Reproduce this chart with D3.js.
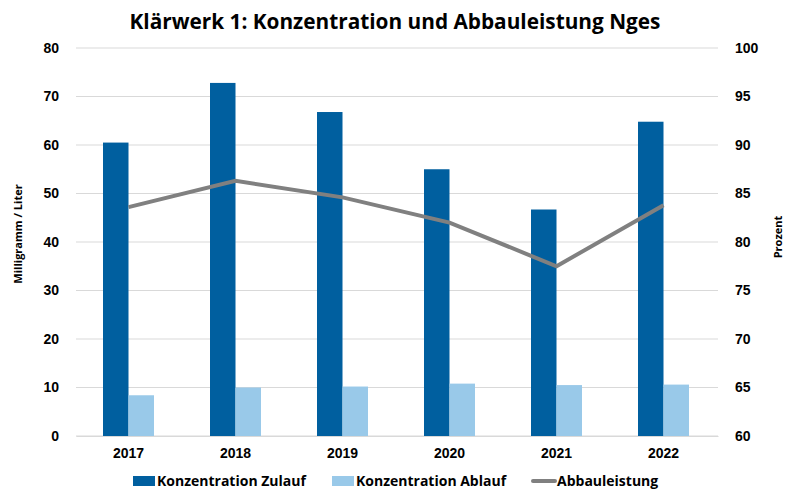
<!DOCTYPE html>
<html>
<head>
<meta charset="utf-8">
<script src="https://cdn.jsdelivr.net/npm/d3@7"></script>
<style>
  body { margin: 0; background: #fff; }
  svg { font-family: "Open Sans", "Noto Sans", sans-serif; }
</style>
</head>
<body>
<script>
// Chart values
const years = ['2017', '2018', '2019', '2020', '2021', '2022'];
const zulauf = [60.5, 72.8, 66.8, 55.0, 46.7, 64.8];
const ablauf = [8.4, 10.0, 10.2, 10.8, 10.5, 10.6];
const abbau = [83.6, 86.3, 84.6, 82.0, 77.5, 83.8];
const leftTicks = [0, 10, 20, 30, 40, 50, 60, 70, 80];
const rightTicks = [60, 65, 70, 75, 80, 85, 90, 95, 100];

const width = 786, height = 491;
const margin = { top: 48, right: 68, bottom: 55, left: 76 };

const svg = d3.select('body').append('svg')
    .attr('width', width)
    .attr('height', height);

const x = d3.scaleBand()
    .domain(years)
    .range([margin.left, width - margin.right]);

const yLeft = d3.scaleLinear()
    .domain([0, 80])
    .range([height - margin.bottom, margin.top]);

const yRight = d3.scaleLinear()
    .domain([60, 100])
    .range([height - margin.bottom, margin.top]);

const barW = 25.5;

// Grid lines
svg.append('g')
    .selectAll('line')
    .data(leftTicks)
    .join('line')
        .attr('x1', margin.left)
        .attr('x2', width - margin.right)
        .attr('y1', d => yLeft(d))
        .attr('y2', d => yLeft(d))
        .style('stroke', '#d9d9d9')
        .style('stroke-width', 1);

// Left axis
const leftAxis = svg.append('g')
    .attr('transform', `translate(${margin.left - 14},0)`)
    .call(d3.axisLeft(yLeft).tickValues(leftTicks).tickSize(0));
leftAxis.select('.domain').remove();
leftAxis.selectAll('text')
    .style('font-size', '14px')
    .style('font-weight', 'bold')
    .style('fill', '#000');

// Right axis
const rightAxis = svg.append('g')
    .attr('transform', `translate(${width - margin.right + 14},0)`)
    .call(d3.axisRight(yRight).tickValues(rightTicks).tickSize(0));
rightAxis.select('.domain').remove();
rightAxis.selectAll('text')
    .style('font-size', '14px')
    .style('font-weight', 'bold')
    .style('fill', '#000');

// Bars
const center = d => x(d) + x.bandwidth() / 2 - 1;

svg.append('g')
    .selectAll('rect')
    .data(years)
    .join('rect')
        .attr('x', d => center(d) - barW)
        .attr('y', (d, i) => yLeft(zulauf[i]))
        .attr('width', barW)
        .attr('height', (d, i) => yLeft(0) - yLeft(zulauf[i]))
        .style('fill', '#005f9f');

svg.append('g')
    .selectAll('rect')
    .data(years)
    .join('rect')
        .attr('x', d => center(d))
        .attr('y', (d, i) => yLeft(ablauf[i]))
        .attr('width', barW)
        .attr('height', (d, i) => yLeft(0) - yLeft(ablauf[i]))
        .style('fill', '#99c9e9');

// Category axis
const bottomAxis = svg.append('g')
    .attr('transform', `translate(0,${height - margin.bottom})`)
    .call(d3.axisBottom(x).tickSize(0).tickPadding(12));
bottomAxis.select('.domain')
    .style('stroke', '#d9d9d9');
bottomAxis.selectAll('text')
    .attr('dx', -1)
    .style('font-size', '14px')
    .style('font-weight', 'bold')
    .style('fill', '#000');

// Line
const line = d3.line()
    .x(d => center(d.year))
    .y(d => yRight(d.value));

svg.append('path')
    .datum(years.map((y, i) => ({ year: y, value: abbau[i] })))
    .attr('d', line)
    .style('fill', 'none')
    .style('stroke', '#808080')
    .style('stroke-width', 4);

// Title
svg.append('text')
    .attr('x', width / 2 + 2)
    .attr('y', 29)
    .attr('text-anchor', 'middle')
    .style('font-size', '20.8px')
    .style('font-weight', 'bold')
    .text('Klärwerk 1: Konzentration und Abbauleistung Nges');

// Axis titles
svg.append('text')
    .attr('transform', 'translate(22,234) rotate(-90)')
    .attr('text-anchor', 'middle')
    .style('font-size', '11px')
    .style('font-weight', 'bold')
    .text('Milligramm / Liter');

svg.append('text')
    .attr('transform', 'translate(782,237) rotate(-90)')
    .attr('text-anchor', 'middle')
    .style('font-size', '11px')
    .style('font-weight', 'bold')
    .text('Prozent');

// Legend
const legend = [
    { label: 'Konzentration Zulauf', color: '#005f9f', type: 'rect', x: 133 },
    { label: 'Konzentration Ablauf', color: '#99c9e9', type: 'rect', x: 332 },
    { label: 'Abbauleistung', color: '#808080', type: 'line', x: 533 }
];

const items = svg.append('g')
    .selectAll('g')
    .data(legend)
    .join('g')
        .attr('transform', d => `translate(${d.x},481)`);

items.filter(d => d.type == 'rect')
    .append('rect')
        .attr('x', 0)
        .attr('y', -5)
        .attr('width', 22)
        .attr('height', 10)
        .style('fill', d => d.color);

items.filter(d => d.type == 'line')
    .append('line')
        .attr('x1', 0)
        .attr('x2', 22)
        .style('stroke', d => d.color)
        .style('stroke-width', 4)
        .style('stroke-linecap', 'round');

items.append('text')
    .attr('x', 24)
    .attr('y', 5)
    .style('font-size', '14px')
    .style('font-weight', 'bold')
    .text(d => d.label);
</script>
</body>
</html>
